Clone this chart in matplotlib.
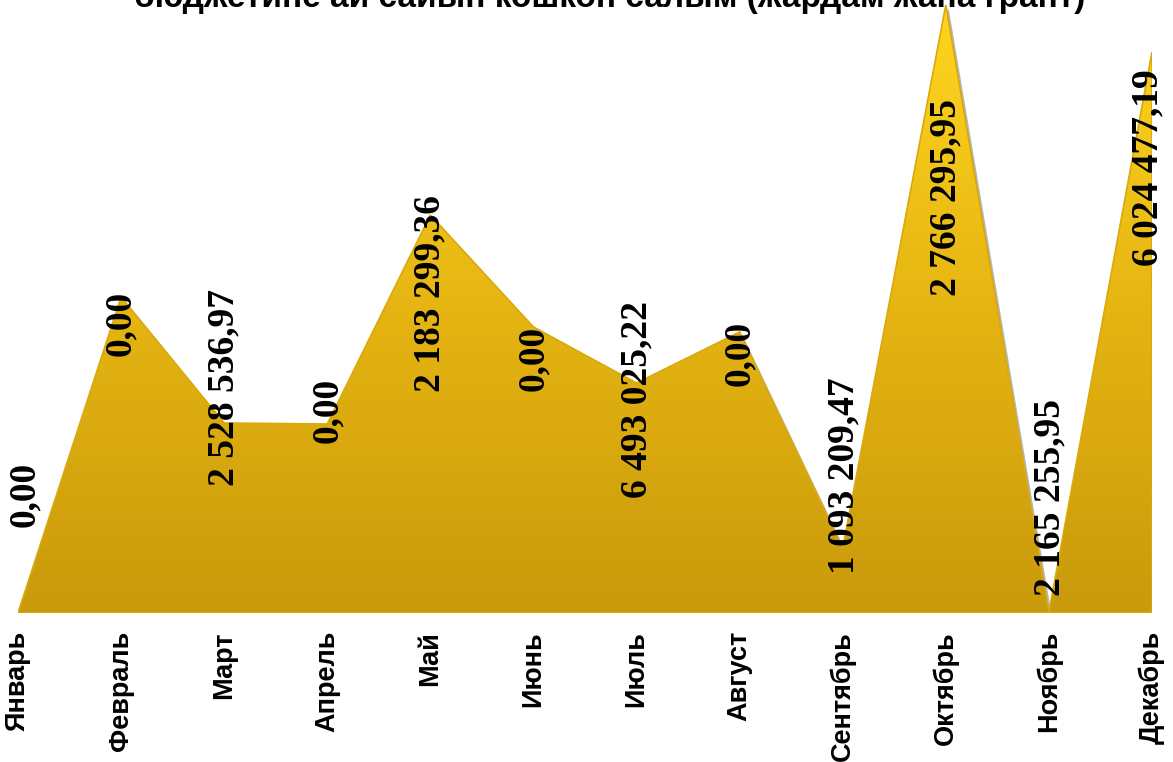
import numpy as np
import matplotlib
matplotlib.use("Agg")
import matplotlib.pyplot as plt
from matplotlib.colors import LinearSegmentedColormap
from matplotlib.patches import Polygon
from matplotlib.transforms import ScaledTranslation

months = ["Январь", "Февраль", "Март", "Апрель", "Май", "Июнь",
          "Июль", "Август", "Сентябрь", "Октябрь", "Ноябрь", "Декабрь"]
# heights of the area as drawn (the labels do not match them in the original)
heights = [0, 316, 190, 189, 398, 286, 230, 281, 65, 608, 1, 561]
value_labels = ["0,00", "0,00", "2 528 536,97", "0,00", "2 183 299,36", "0,00",
                "6 493 025,22", "0,00", "1 093 209,47", "2 766 295,95",
                "2 165 255,95", "6 024 477,19"]
label_y = [119, 290, 225, 203, 320, 255, 214, 260, 137, 415, 115, 445]
label_dx = [5, 0, 0, 0, 0, 0, 0, 0, 1, 0, 1, -3]

title = "бюджетине ай сайын кошкон салым (жардам жана грант)"


def main():
    fig = plt.figure(figsize=(11.73, 7.62), dpi=100)
    ax = fig.add_axes([18 / 1173, 149 / 762, 1134 / 1173, 613 / 762])
    x = np.arange(len(months))
    top = 613

    verts = [(x[0], 0)] + list(zip(x, heights)) + [(x[-1], 0)]

    # soft shadow under the area
    shadow = Polygon(verts, closed=True, facecolor="#7a7a7a", edgecolor="none",
                     alpha=0.55, zorder=1,
                     transform=ax.transData + ScaledTranslation(2 / 72, -2 / 72, fig.dpi_scale_trans))
    ax.add_patch(shadow)

    # golden gradient clipped to the area
    cmap = LinearSegmentedColormap.from_list("gold", ["#C99A0B", "#E6B512", "#FFD620"])
    grad = np.linspace(0, 1, 256).reshape(-1, 1)
    im = ax.imshow(grad, extent=[x[0], x[-1], 0, top], origin="lower",
                   aspect="auto", cmap=cmap, zorder=2)
    area = Polygon(verts, closed=True, facecolor="none", edgecolor="#D9A90C",
                   linewidth=1.2, zorder=3)
    ax.add_patch(area)
    im.set_clip_path(area)

    for i, lab in enumerate(value_labels):
        ax.annotate(lab, (x[i], label_y[i]), xytext=(label_dx[i], 0),
                    textcoords="offset points", rotation=90,
                    ha="center", va="center", fontsize=27, fontweight="bold",
                    family="Liberation Serif", color="black", zorder=5)

    ax.set_xlim(x[0], x[-1])
    ax.set_ylim(0, top)
    ax.set_xticks(x)
    ax.set_xticklabels(months, rotation=90, fontsize=19.5, fontweight="bold",
                       family="Liberation Sans")
    ax.tick_params(axis="x", length=0, pad=13)
    ax.set_yticks([])
    for s in ax.spines.values():
        s.set_visible(False)

    fig.text(610 / 1173, 1 - 7 / 762, title, ha="center", va="baseline",
             fontsize=24, fontweight="bold", family="Liberation Sans")

    fig.savefig("out.png", dpi=100)


if __name__ == "__main__":
    main()
